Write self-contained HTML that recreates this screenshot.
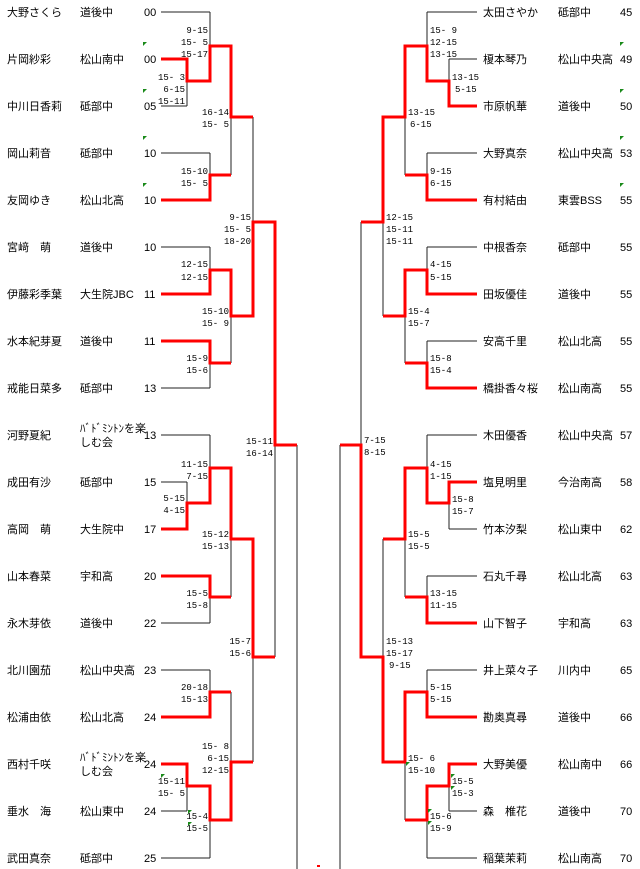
<!DOCTYPE html>
<html><head><meta charset="utf-8"><style>
html,body{margin:0;padding:0;background:#fff;}
svg{display:block;}
.n{font-family:"Liberation Sans","Noto Sans CJK JP",sans-serif;font-size:11px;fill:#000;}
.s{font-family:"Liberation Mono","Noto Sans CJK JP",monospace;font-size:9px;fill:#000;}
.e{text-anchor:end;}
</style></head><body>
<svg width="640" height="869" viewBox="0 0 640 869" xmlns="http://www.w3.org/2000/svg">
<g fill="none" stroke="#222" stroke-width="1">
<path d="M161 12H210M161 59H187M161 106H187M161 153H210M161 200H210M161 247H210M161 294H210M161 341H210M161 388H210M161 435H210M161 482H187M161 529H187M161 576H210M161 623H210M161 670H210M161 717H210M161 764H187M161 811H187M161 858H210"/>
<path d="M187 59V106M210 12V81M210 153V200M231 46V175M210 247V294M210 341V388M231 270V363M253 117V316M275 222V657M297 445V869M187 482V529M210 435V503M210 576V623M231 468V597M210 670V717M187 764V811M210 786V858M231 692V820M253 539V762"/>
<path d="M187 81H210M210 46H231M210 175H231M231 117H253M210 270H231M210 363H231M231 316H253M253 222H275M275 445H297M187 503H210M210 468H231M210 597H231M231 539H253M210 692H231M187 786H210M210 820H231M231 762H253M253 657H275"/>
<path d="M477 12H427M477 59H449M477 106H449M477 153H427M477 200H427M477 247H427M477 294H427M477 341H427M477 388H427M477 435H427M477 482H449M477 529H449M477 576H427M477 623H427M477 670H427M477 717H427M477 764H449M477 811H449M477 858H427"/>
<path d="M449 59V106M427 12V81M427 153V200M405 46V175M427 247V294M427 341V388M405 270V363M383 117V316M361 222V657M340 445V869M449 482V529M427 435V503M427 576V623M405 468V597M427 670V717M449 764V811M427 786V858M405 692V820M383 539V762"/>
<path d="M449 81H427M427 46H405M427 175H405M405 117H383M427 270H405M427 363H405M405 316H383M383 222H361M361 445H340M449 503H427M427 468H405M427 597H405M405 539H383M427 692H405M449 786H427M427 820H405M405 762H383M383 657H361"/>
</g>
<g fill="none" stroke="#f00" stroke-width="3" stroke-linejoin="miter">
<path d="M161 59H187V81H210V46H231V117H253"/>
<path d="M161 200H210V175H231"/>
<path d="M161 294H210V270H231V316H253V222H275V445H297"/>
<path d="M161 341H210V363H231"/>
<path d="M161 529H187V503H210V468H231V539H253V657H275"/>
<path d="M161 576H210V597H231"/>
<path d="M161 717H210V692H231"/>
<path d="M161 764H187V786H210V820H231V762H253"/>
<path d="M477 106H449V81H427V46H405V117H383V222H361"/>
<path d="M477 200H427V175H405"/>
<path d="M477 294H427V270H405V316H383"/>
<path d="M477 388H427V363H405"/>
<path d="M477 482H449V503H427V468H405V539H383"/>
<path d="M477 623H427V597H405"/>
<path d="M477 717H427V692H405V762H383V657H361V445H340"/>
<path d="M477 764H449V786H427V820H405"/>
</g>
<rect x="317" y="865" width="3" height="2" fill="#f00"/>
<g fill="#1a8a1a">
<path d="M143 42h4l-4 4zM143 89h4l-4 4zM143 136h4l-4 4zM143 183h4l-4 4z"/>
<path d="M620 42h4l-4 4zM620 89h4l-4 4zM620 136h4l-4 4zM620 183h4l-4 4z"/>
<path d="M161 774h4l-4 4zM188 810h4l-4 4zM188 822h4l-4 4zM451 774h4l-4 4zM451 786h4l-4 4zM428 809h4l-4 4zM428 821h4l-4 4zM406 762h4l-4 4z"/>
</g>
<g class="n">
<text x="7" y="16">大野さくら</text><text x="80" y="16">道後中</text><text x="144" y="16">00</text>
<text x="7" y="63">片岡紗彩</text><text x="80" y="63">松山南中</text><text x="144" y="63">00</text>
<text x="7" y="110">中川日香莉</text><text x="80" y="110">砥部中</text><text x="144" y="110">05</text>
<text x="7" y="157">岡山莉音</text><text x="80" y="157">砥部中</text><text x="144" y="157">10</text>
<text x="7" y="204">友岡ゆき</text><text x="80" y="204">松山北高</text><text x="144" y="204">10</text>
<text x="7" y="251">宮﨑　萌</text><text x="80" y="251">道後中</text><text x="144" y="251">10</text>
<text x="7" y="298">伊藤彩季葉</text><text x="80" y="298">大生院JBC</text><text x="144" y="298">11</text>
<text x="7" y="345">水本紀芽夏</text><text x="80" y="345">道後中</text><text x="144" y="345">11</text>
<text x="7" y="392">戒能日菜多</text><text x="80" y="392">砥部中</text><text x="144" y="392">13</text>
<text x="7" y="439">河野夏紀</text><text x="80" y="432">ﾊﾞﾄﾞﾐﾝﾄﾝを楽</text><text x="80" y="446">しむ会</text><text x="144" y="439">13</text>
<text x="7" y="486">成田有沙</text><text x="80" y="486">砥部中</text><text x="144" y="486">15</text>
<text x="7" y="533">高岡　萌</text><text x="80" y="533">大生院中</text><text x="144" y="533">17</text>
<text x="7" y="580">山本春菜</text><text x="80" y="580">宇和高</text><text x="144" y="580">20</text>
<text x="7" y="627">永木芽依</text><text x="80" y="627">道後中</text><text x="144" y="627">22</text>
<text x="7" y="674">北川園茄</text><text x="80" y="674">松山中央高</text><text x="144" y="674">23</text>
<text x="7" y="721">松浦由依</text><text x="80" y="721">松山北高</text><text x="144" y="721">24</text>
<text x="7" y="768">西村千咲</text><text x="80" y="761">ﾊﾞﾄﾞﾐﾝﾄﾝを楽</text><text x="80" y="775">しむ会</text><text x="144" y="768">24</text>
<text x="7" y="815">垂水　海</text><text x="80" y="815">松山東中</text><text x="144" y="815">24</text>
<text x="7" y="862">武田真奈</text><text x="80" y="862">砥部中</text><text x="144" y="862">25</text>
</g>
<g class="n">
<text x="483" y="16">太田さやか</text><text x="558" y="16">砥部中</text><text x="620" y="16">45</text>
<text x="483" y="63">榎本琴乃</text><text x="558" y="63">松山中央高</text><text x="620" y="63">49</text>
<text x="483" y="110">市原帆華</text><text x="558" y="110">道後中</text><text x="620" y="110">50</text>
<text x="483" y="157">大野真奈</text><text x="558" y="157">松山中央高</text><text x="620" y="157">53</text>
<text x="483" y="204">有村結由</text><text x="558" y="204">東雲BSS</text><text x="620" y="204">55</text>
<text x="483" y="251">中根香奈</text><text x="558" y="251">砥部中</text><text x="620" y="251">55</text>
<text x="483" y="298">田坂優佳</text><text x="558" y="298">道後中</text><text x="620" y="298">55</text>
<text x="483" y="345">安高千里</text><text x="558" y="345">松山北高</text><text x="620" y="345">55</text>
<text x="483" y="392">橋掛香々桜</text><text x="558" y="392">松山南高</text><text x="620" y="392">55</text>
<text x="483" y="439">木田優香</text><text x="558" y="439">松山中央高</text><text x="620" y="439">57</text>
<text x="483" y="486">塩見明里</text><text x="558" y="486">今治南高</text><text x="620" y="486">58</text>
<text x="483" y="533">竹本汐梨</text><text x="558" y="533">松山東中</text><text x="620" y="533">62</text>
<text x="483" y="580">石丸千尋</text><text x="558" y="580">松山北高</text><text x="620" y="580">63</text>
<text x="483" y="627">山下智子</text><text x="558" y="627">宇和高</text><text x="620" y="627">63</text>
<text x="483" y="674">井上菜々子</text><text x="558" y="674">川内中</text><text x="620" y="674">65</text>
<text x="483" y="721">勘奥真尋</text><text x="558" y="721">道後中</text><text x="620" y="721">66</text>
<text x="483" y="768">大野美優</text><text x="558" y="768">松山南中</text><text x="620" y="768">66</text>
<text x="483" y="815">森　椎花</text><text x="558" y="815">道後中</text><text x="620" y="815">70</text>
<text x="483" y="862">稲葉茉莉</text><text x="558" y="862">松山南高</text><text x="620" y="862">70</text>
</g>
<g class="s e">
<text x="208" y="33">9-15</text><text x="208" y="45">15- 5</text><text x="208" y="57">15-17</text>
<text x="185" y="80">15- 3</text><text x="185" y="92">6-15</text><text x="185" y="104">15-11</text>
<text x="208" y="174">15-10</text><text x="208" y="186">15- 5</text>
<text x="229" y="115">16-14</text><text x="229" y="127">15- 5</text>
<text x="208" y="267">12-15</text><text x="208" y="280">12-15</text>
<text x="208" y="361">15-9</text><text x="208" y="373">15-6</text>
<text x="229" y="314">15-10</text><text x="229" y="326">15- 9</text>
<text x="251" y="220">9-15</text><text x="251" y="232">15- 5</text><text x="251" y="244">18-20</text>
<text x="273" y="444">15-11</text><text x="273" y="456">16-14</text>
<text x="208" y="467">11-15</text><text x="208" y="479">7-15</text>
<text x="185" y="501">5-15</text><text x="185" y="513">4-15</text>
<text x="229" y="537">15-12</text><text x="229" y="549">15-13</text>
<text x="208" y="596">15-5</text><text x="208" y="608">15-8</text>
<text x="251" y="644">15-7</text><text x="251" y="656">15-6</text>
<text x="208" y="690">20-18</text><text x="208" y="702">15-13</text>
<text x="229" y="749">15- 8</text><text x="229" y="761">6-15</text><text x="229" y="773">12-15</text>
<text x="185" y="784">15-11</text><text x="185" y="796">15- 5</text>
<text x="208" y="819">15-4</text><text x="208" y="831">15-5</text>
</g>
<g class="s">
<text x="430" y="33">15- 9</text><text x="430" y="45">12-15</text><text x="430" y="57">13-15</text>
<text x="452" y="80">13-15</text><text x="455" y="92">5-15</text>
<text x="430" y="174">9-15</text><text x="430" y="186">6-15</text>
<text x="408" y="115">13-15</text><text x="410" y="127">6-15</text>
<text x="430" y="267">4-15</text><text x="430" y="280">5-15</text>
<text x="430" y="361">15-8</text><text x="430" y="373">15-4</text>
<text x="408" y="314">15-4</text><text x="408" y="326">15-7</text>
<text x="386" y="220">12-15</text><text x="386" y="232">15-11</text><text x="386" y="244">15-11</text>
<text x="364" y="443">7-15</text><text x="364" y="455">8-15</text>
<text x="430" y="467">4-15</text><text x="430" y="479">1-15</text>
<text x="452" y="502">15-8</text><text x="452" y="514">15-7</text>
<text x="408" y="537">15-5</text><text x="408" y="549">15-5</text>
<text x="430" y="596">13-15</text><text x="430" y="608">11-15</text>
<text x="386" y="644">15-13</text><text x="386" y="656">15-17</text><text x="389" y="668">9-15</text>
<text x="430" y="690">5-15</text><text x="430" y="702">5-15</text>
<text x="408" y="761">15- 6</text><text x="408" y="773">15-10</text>
<text x="452" y="784">15-5</text><text x="452" y="796">15-3</text>
<text x="430" y="819">15-6</text><text x="430" y="831">15-9</text>
</g>
</svg>
</body></html>
